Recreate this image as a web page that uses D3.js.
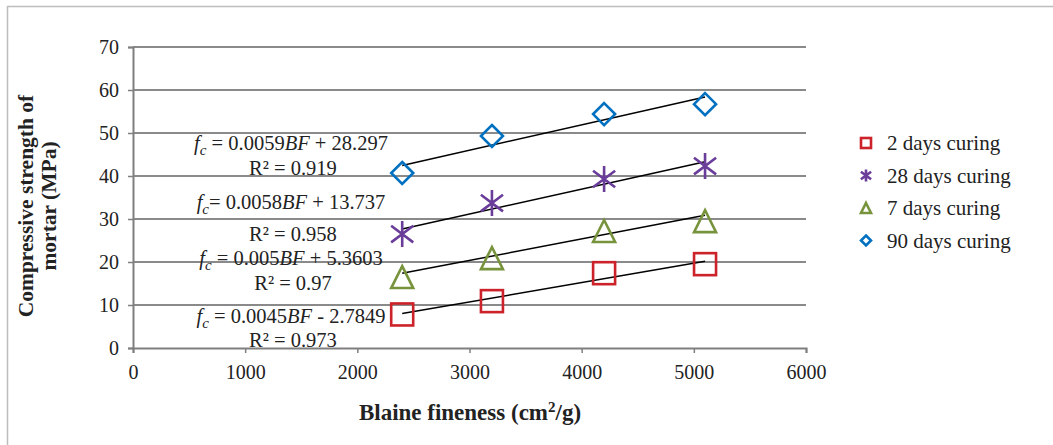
<!DOCTYPE html>
<html>
<head>
<meta charset="utf-8">
<script src="https://cdn.jsdelivr.net/npm/d3@7"></script>
<style>
body { margin: 0; background: #fff; }
text { font-family: "Liberation Serif", "Times New Roman", serif; fill: #222; }
</style>
</head>
<body>
<script>
// blaine fineness values (cm2/g)
var fineness = [2400, 3200, 4200, 5100];
var days2  = [7.8, 10.9, 17.4, 19.5];
var days28 = [26.5, 33.7, 39.3, 42.3];
var days7  = [16.5, 20.9, 27.2, 29.5];
var days90 = [40.7, 49.3, 54.4, 56.7];
var seriesNames = ["2 days curing", "28 days curing", "7 days curing", "90 days curing"];
// trend line coefficients as printed on the chart
var slopes = [0.0045, 0.0058, 0.005, 0.0059];
var intercepts = [-2.7849, 13.737, 5.3603, 28.297];
var eqSlopeText = ["0.0045", "0.0058", "0.005", "0.0059"];
var eqInterText = ["- 2.7849", "+ 13.737", "+ 5.3603", "+ 28.297"];
var r2Text = ["0.973", "0.958", "0.97", "0.919"];
var xTicks = [0, 1000, 2000, 3000, 4000, 5000, 6000];
var yTicks = [0, 10, 20, 30, 40, 50, 60, 70];

var width = 1053, height = 445;

var svg = d3.select("body").append("svg")
	.attr("width", width)
	.attr("height", height);

// outer frame (top and left edges only show)
svg.append("line").attr("x1", 7).attr("x2", width).attr("y1", 6.5).attr("y2", 6.5)
	.attr("stroke", "#bdbdbd").attr("stroke-width", 1.5);
svg.append("line").attr("x1", 7.5).attr("x2", 7.5).attr("y1", 6).attr("y2", height)
	.attr("stroke", "#bdbdbd").attr("stroke-width", 1.5);

var x = d3.scaleLinear().domain([0, 6000]).range([133, 806]);
var y = d3.scaleLinear().domain([0, 70]).range([348, 47]);

var colors = ["#cc2229", "#6a3d9a", "#77933c", "#0070c0"];
var symbols = ["square", "star", "triangle", "diamond"];
var data = [days2, days28, days7, days90];

var g = svg.append("g");

// gridlines
g.selectAll(".grid").data(yTicks.slice(1)).enter().append("line")
	.attr("class", "grid")
	.attr("x1", x(0)).attr("x2", x(6000))
	.attr("y1", d => y(d)).attr("y2", d => y(d))
	.attr("stroke", "#8a8a8a").attr("stroke-width", 1.8);

// axes
var leftAxis = d3.axisLeft(y).tickValues(yTicks).tickSize(5).tickPadding(9).tickFormat(d3.format("d"));
var ga = g.append("g").attr("transform", "translate(" + x(0) + ",0)").call(leftAxis);
var bottomAxis = d3.axisBottom(x).tickValues(xTicks).tickSize(5).tickPadding(12).tickFormat(d3.format("d"));
var gb = g.append("g").attr("transform", "translate(0," + y(0) + ")").call(bottomAxis);
[ga, gb].forEach(a => {
	a.select(".domain").attr("stroke", "#7f7f7f").attr("stroke-width", 2);
	a.selectAll(".tick line").attr("stroke", "#7f7f7f").attr("stroke-width", 1.5);
	a.selectAll("text").attr("font-family", "Liberation Serif").attr("font-size", "20px").attr("fill", "#222");
});

// trend lines
data.forEach((s, i) => {
	var x0 = d3.min(fineness), x1 = d3.max(fineness);
	g.append("line")
		.attr("x1", x(x0)).attr("y1", y(slopes[i] * x0 + intercepts[i]))
		.attr("x2", x(x1)).attr("y2", y(slopes[i] * x1 + intercepts[i]))
		.attr("stroke", "#000").attr("stroke-width", 1.5);
});

function drawMarker(sel, type, color, s, sw) {
	var h = s / 2;
	if (type === "square") {
		sel.append("rect").attr("x", -h).attr("y", -h).attr("width", s).attr("height", s)
			.attr("fill", "none").attr("stroke", color).attr("stroke-width", sw);
	} else if (type === "diamond") {
		sel.append("path").attr("d", "M0," + (-h) + "L" + h + ",0L0," + h + "L" + (-h) + ",0Z")
			.attr("fill", "none").attr("stroke", color).attr("stroke-width", sw);
	} else if (type === "triangle") {
		sel.append("path").attr("d", "M0," + (-h) + "L" + h + "," + h + "L" + (-h) + "," + h + "Z")
			.attr("fill", "none").attr("stroke", color).attr("stroke-width", sw).attr("stroke-linejoin", "miter");
	} else {
		var a = h * 0.85;
		sel.append("path").attr("d", "M0," + (-h) + "V" + h + "M" + (-a) + "," + (-a * 0.75) + "L" + a + "," + (a * 0.75) + "M" + (-a) + "," + (a * 0.75) + "L" + a + "," + (-a * 0.75))
			.attr("fill", "none").attr("stroke", color).attr("stroke-width", sw);
	}
}

// markers
data.forEach((s, i) => {
	s.forEach((v, j) => {
		var m = g.append("g").attr("transform", "translate(" + x(fineness[j]) + "," + y(v) + ")");
		drawMarker(m, symbols[i], colors[i], i === 1 ? 26 : 22, 2.6);
	});
});

// equations
var eqY = [[316, 340], [202, 234], [258, 283], [143, 168]];
data.forEach((s, i) => {
	var t = g.append("text").attr("x", 291).attr("y", eqY[i][0]).attr("dy", "0.35em")
		.attr("text-anchor", "middle").attr("font-size", "20.5px");
	t.append("tspan").attr("font-style", "italic").text("f");
	t.append("tspan").attr("font-style", "italic").attr("font-size", "15px").attr("dy", 5).text("c");
	t.append("tspan").attr("dy", -5).text((i === 1 ? "= " : " = ") + eqSlopeText[i]);
	t.append("tspan").attr("font-style", "italic").text("BF");
	t.append("tspan").text(" " + eqInterText[i]);
	g.append("text").attr("x", 293).attr("y", eqY[i][1]).attr("dy", "0.35em")
		.attr("text-anchor", "middle").attr("font-size", "20.5px")
		.text("R² = " + r2Text[i]);
});

// legend
var legend = svg.append("g").attr("transform", "translate(866,143)");
seriesNames.forEach((n, i) => {
	var row = legend.append("g").attr("transform", "translate(0," + (i * 32.5) + ")");
	drawMarker(row, symbols[i], colors[i], i === 1 ? 12 : 10, 2.6);
	row.append("text").attr("x", 21).attr("dy", "0.35em").attr("font-size", "21px").text(n);
});

// axis titles
var yt = svg.append("text").attr("transform", "translate(25,206) rotate(-90)")
	.attr("text-anchor", "middle").attr("font-weight", "bold").attr("font-size", "21.5px");
yt.append("tspan").attr("x", 0).attr("dy", "0.35em").text("Compressive strength of");
yt.append("tspan").attr("x", 0).attr("dy", "1.1em").text("mortar (MPa)");

var xt = svg.append("text").attr("x", 470).attr("y", 412).attr("dy", "0.35em")
	.attr("text-anchor", "middle").attr("font-weight", "bold").attr("font-size", "23px");
xt.append("tspan").text("Blaine fineness (cm");
xt.append("tspan").attr("font-size", "15px").attr("dy", -8).text("2");
xt.append("tspan").attr("dy", 8).text("/g)");
</script>
</body>
</html>
